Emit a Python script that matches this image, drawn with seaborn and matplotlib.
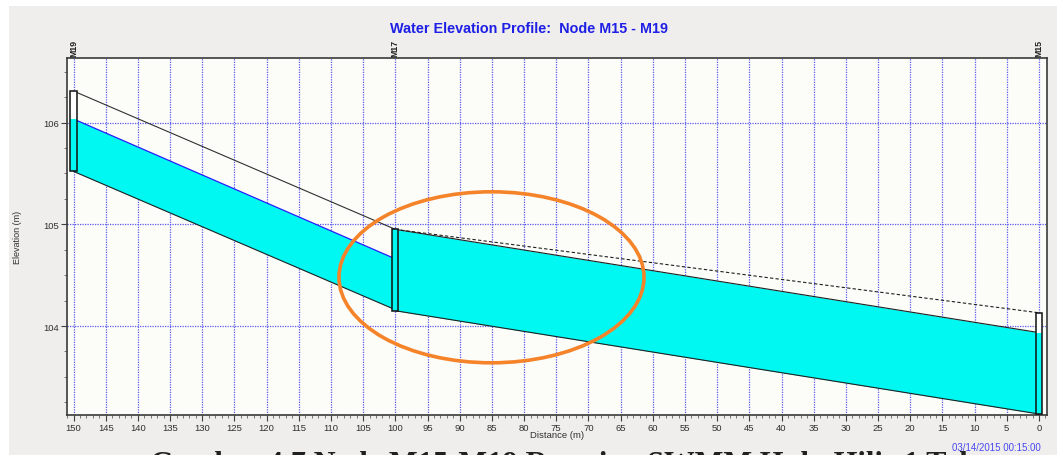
import matplotlib
matplotlib.use('Agg')
import numpy as np
import pandas as pd
import seaborn as sns
import matplotlib.pyplot as plt
from matplotlib.patches import Ellipse, Rectangle
from matplotlib.ticker import MultipleLocator
from matplotlib.transforms import blended_transform_factory

# ---------------- data ----------------
node_names = ['M19', 'M17', 'M15']
node_dist = [150, 100, 0]
node_invert = [105.52, 104.15, 103.135]
node_top = [106.31, 104.95, 104.13]
node_water = [106.035, 104.95, 103.935]

link1_dist = [150, 100]
link1_invert = [105.52, 104.16]
link1_crown = [106.31, 104.95]
link1_water = [106.035, 104.66]

link2_dist = [100, 0]
link2_invert = [104.15, 103.135]
link2_crown = [104.95, 104.13]
link2_water = [104.95, 103.935]

x_ticks = list(range(0, 151, 5))
y_ticks = [104, 105, 106]

title = 'Water Elevation Profile:  Node M15 - M19'
x_label = 'Distance (m)'
y_label = 'Elevation (m)'
stamp = '03/14/2015 00:15:00'
caption = 'Gambar 4.7 Node M15-M19 Running SWMM Hulu Hilir 1 Tahun'

# ---------------- style ----------------
sns.set_theme(style='white')
plt.rcParams['font.family'] = ['Liberation Sans', 'DejaVu Sans']

W, H = 1057, 456
fig = plt.figure(figsize=(W / 100, H / 100), dpi=100, facecolor='white')

# grey panel
fig.add_artist(Rectangle((9 / W, 0), 1 - 9 / W, (H - 7) / H, transform=fig.transFigure,
                         facecolor='#efeeec', edgecolor='none', zorder=0))

ax = fig.add_axes([66.7 / W, 40 / H, 980 / W, 357 / H])
ax.set_facecolor('#fcfcf8')

cyan = '#00f8f2'
blue_line = '#1e1eff'
grid_col = '#5a5af0'

# water fills
ax.fill_between(link1_dist, link1_invert, link1_water, color=cyan, lw=0, zorder=1)
ax.fill_between(link2_dist, link2_invert, link2_water, color=cyan, lw=0, zorder=1)

# lines via seaborn
sns.lineplot(x=link1_dist, y=link1_crown, ax=ax, color='#303030', lw=0.8,
             sort=False, estimator=None, zorder=2)
sns.lineplot(x=link1_dist, y=link1_invert, ax=ax, color='#202020', lw=0.8,
             sort=False, estimator=None, zorder=2)
sns.lineplot(x=link1_dist, y=link1_water, ax=ax, color=blue_line, lw=0.9,
             sort=False, estimator=None, zorder=2)
sns.lineplot(x=link2_dist, y=link2_crown, ax=ax, color='#202020', lw=0.8,
             sort=False, estimator=None, zorder=2, linestyle=(0, (3, 2)))
sns.lineplot(x=link2_dist, y=link2_invert, ax=ax, color='#202020', lw=0.8,
             sort=False, estimator=None, zorder=2)
sns.lineplot(x=link2_dist, y=link2_water, ax=ax, color='#202020', lw=0.8,
             sort=False, estimator=None, zorder=2)

# node boxes
box_w = 0.95
heights_full = [t - b for t, b in zip(node_top, node_invert)]
heights_water = [w - b for w, b in zip(node_water, node_invert)]
ax.bar(node_dist, heights_full, bottom=node_invert, width=box_w, color='white',
       edgecolor='none', zorder=3)
ax.bar(node_dist, heights_water, bottom=node_invert, width=box_w, color=cyan,
       edgecolor='none', zorder=3)
ax.bar(node_dist, heights_full, bottom=node_invert, width=box_w, fill=False,
       edgecolor='#101010', lw=1.1, zorder=4)

# axes limits and ticks
ax.set_xlim(151.06, -1.2)
ax.set_ylim(103.125, 106.635)
ax.set_xticks(x_ticks)
ax.set_xticklabels([str(v) for v in x_ticks])
ax.set_yticks(y_ticks)
ax.set_yticklabels([str(v) for v in y_ticks])
ax.xaxis.set_minor_locator(MultipleLocator(1))
ax.yaxis.set_minor_locator(MultipleLocator(0.25))
ax.tick_params(axis='both', which='major', direction='out', length=4, width=0.8,
               color='#404040', labelsize=6.8, labelcolor='#303030', pad=1.5,
               bottom=True, left=True)
ax.tick_params(axis='both', which='minor', direction='out', length=2, width=0.6,
               color='#606060', bottom=True, left=True)

ax.set_axisbelow(True)
ax.grid(True, which='major', color=grid_col, lw=0.9, linestyle=(0, (1, 1)))

for s in ax.spines.values():
    s.set_color('#3a3a3a')
    s.set_linewidth(1.2)

ax.set_xlabel('')
ax.set_ylabel('')

# node labels above axes
trans = blended_transform_factory(ax.transData, ax.transAxes)
for d, n in zip(node_dist, node_names):
    ax.text(d, 1.007, n, transform=trans, rotation=90, ha='center', va='bottom',
            fontsize=6.3, fontweight='bold', color='#202020', clip_on=False)

# texts
fig.text(0.5, 1 - 29 / H, title, ha='center', va='center', fontsize=10.4,
         fontweight='bold', color='#1f1fe6')
fig.text(556.7 / W, 1 - 436 / H, x_label, ha='center', va='center', fontsize=6.8,
         color='#303030')
fig.text(18 / W, 1 - 237 / H, y_label, ha='center', va='center', rotation=90,
         fontsize=6.5, color='#303030')
fig.text(1041 / W, 1 - 448 / H, stamp, ha='right', va='center', fontsize=7,
         color='#4848f0')
fig.text(150 / W, -17.5 / H, caption, ha='left', va='baseline', fontsize=22,
         fontweight='bold', family='Liberation Serif', color='#202020')

# orange annotation ellipse
fig.add_artist(Ellipse((491.5 / W, 1 - 278.3 / H), 305 / W, 171 / H,
                       transform=fig.transFigure, fill=False, edgecolor='#f5832a',
                       lw=2.6, zorder=10))

fig.savefig('out.png', dpi=100, facecolor='white')
